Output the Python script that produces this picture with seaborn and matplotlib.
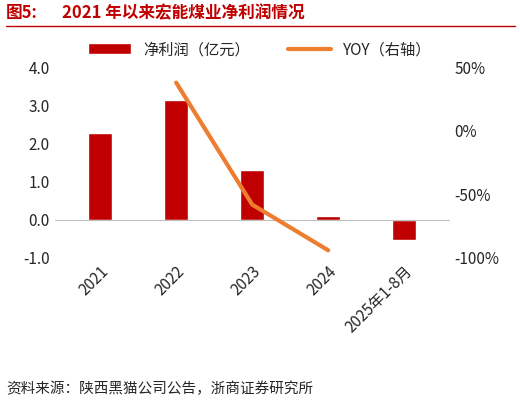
import matplotlib
matplotlib.use("Agg")
import matplotlib.pyplot as plt
import seaborn as sns
import pandas as pd

categories = ["2021", "2022", "2023", "2024", "2025年1-8月"]
profit = [2.27, 3.15, 1.31, 0.09, -0.54]
yoy_cats = ["2022", "2023", "2024"]
yoy = [38, -58, -94]

sns.set_theme(style="white")
plt.rcParams['font.family'] = ['Noto Sans CJK SC', 'DejaVu Sans']
plt.rcParams['axes.unicode_minus'] = False

fig = plt.figure(figsize=(5.2, 4.03), dpi=100)
ax = fig.add_axes([0.105, 0.36, 0.76, 0.52])
df = pd.DataFrame({"cat": categories, "v": profit})
sns.barplot(data=df, x="cat", y="v", color="#C00000", width=0.31, ax=ax, label="净利润（亿元）", saturation=1)
ax.set_ylim(-1.0, 4.5)
ax.set_yticks([-1.0, 0.0, 1.0, 2.0, 3.0, 4.0])
ax.set_yticklabels([f"{v:.1f}" for v in [-1.0, 0.0, 1.0, 2.0, 3.0, 4.0]], fontsize=11)
ax.set_xlabel(""); ax.set_ylabel("")
ax.tick_params(axis="both", length=0)
ax.tick_params(axis="x", labelrotation=45, labelsize=11)
for lab in ax.get_xticklabels():
    lab.set_ha("right"); lab.set_rotation_mode("anchor")
ax.axhline(0, color="#BFBFBF", lw=0.8)
for s in ax.spines.values():
    s.set_visible(False)

ax2 = ax.twinx()
xpos = [categories.index(c) for c in yoy_cats]
sns.lineplot(x=xpos, y=yoy, color="#ED7D31", lw=3, ax=ax2, label="YOY（右轴）")
ax2.set_ylim(-100, 65)
ax2.set_yticks([-100, -50, 0, 50])
ax2.set_yticklabels(["-100%", "-50%", "0%", "50%"], fontsize=11)
ax2.tick_params(axis="y", length=0)
for s in ax2.spines.values():
    s.set_visible(False)
ax2.set_ylabel("")
ax.set_xlim(-0.6, 4.6)

h1, l1 = ax.get_legend_handles_labels()
h2, l2 = ax2.get_legend_handles_labels()
if ax2.get_legend(): ax2.get_legend().remove()
if ax.get_legend(): ax.get_legend().remove()
ax.legend(h1 + h2, l1 + l2, loc="upper center", bbox_to_anchor=(0.52, 1.1), ncol=2,
          frameon=False, fontsize=11, handlelength=2.8, columnspacing=2.5)

fig.text(0.012, 0.955, "图5:", color="#C00000", fontsize=12, weight="bold")
fig.text(0.12, 0.955, "2021 年以来宏能煤业净利润情况", color="#C00000", fontsize=12, weight="bold")
fig.add_artist(plt.Line2D([0.012, 0.99], [0.935, 0.935], color="#C00000", lw=1))
fig.text(0.012, 0.025, "资料来源：陕西黑猫公司公告，浙商证券研究所", fontsize=10.5)
fig.savefig("out.png", dpi=100)
